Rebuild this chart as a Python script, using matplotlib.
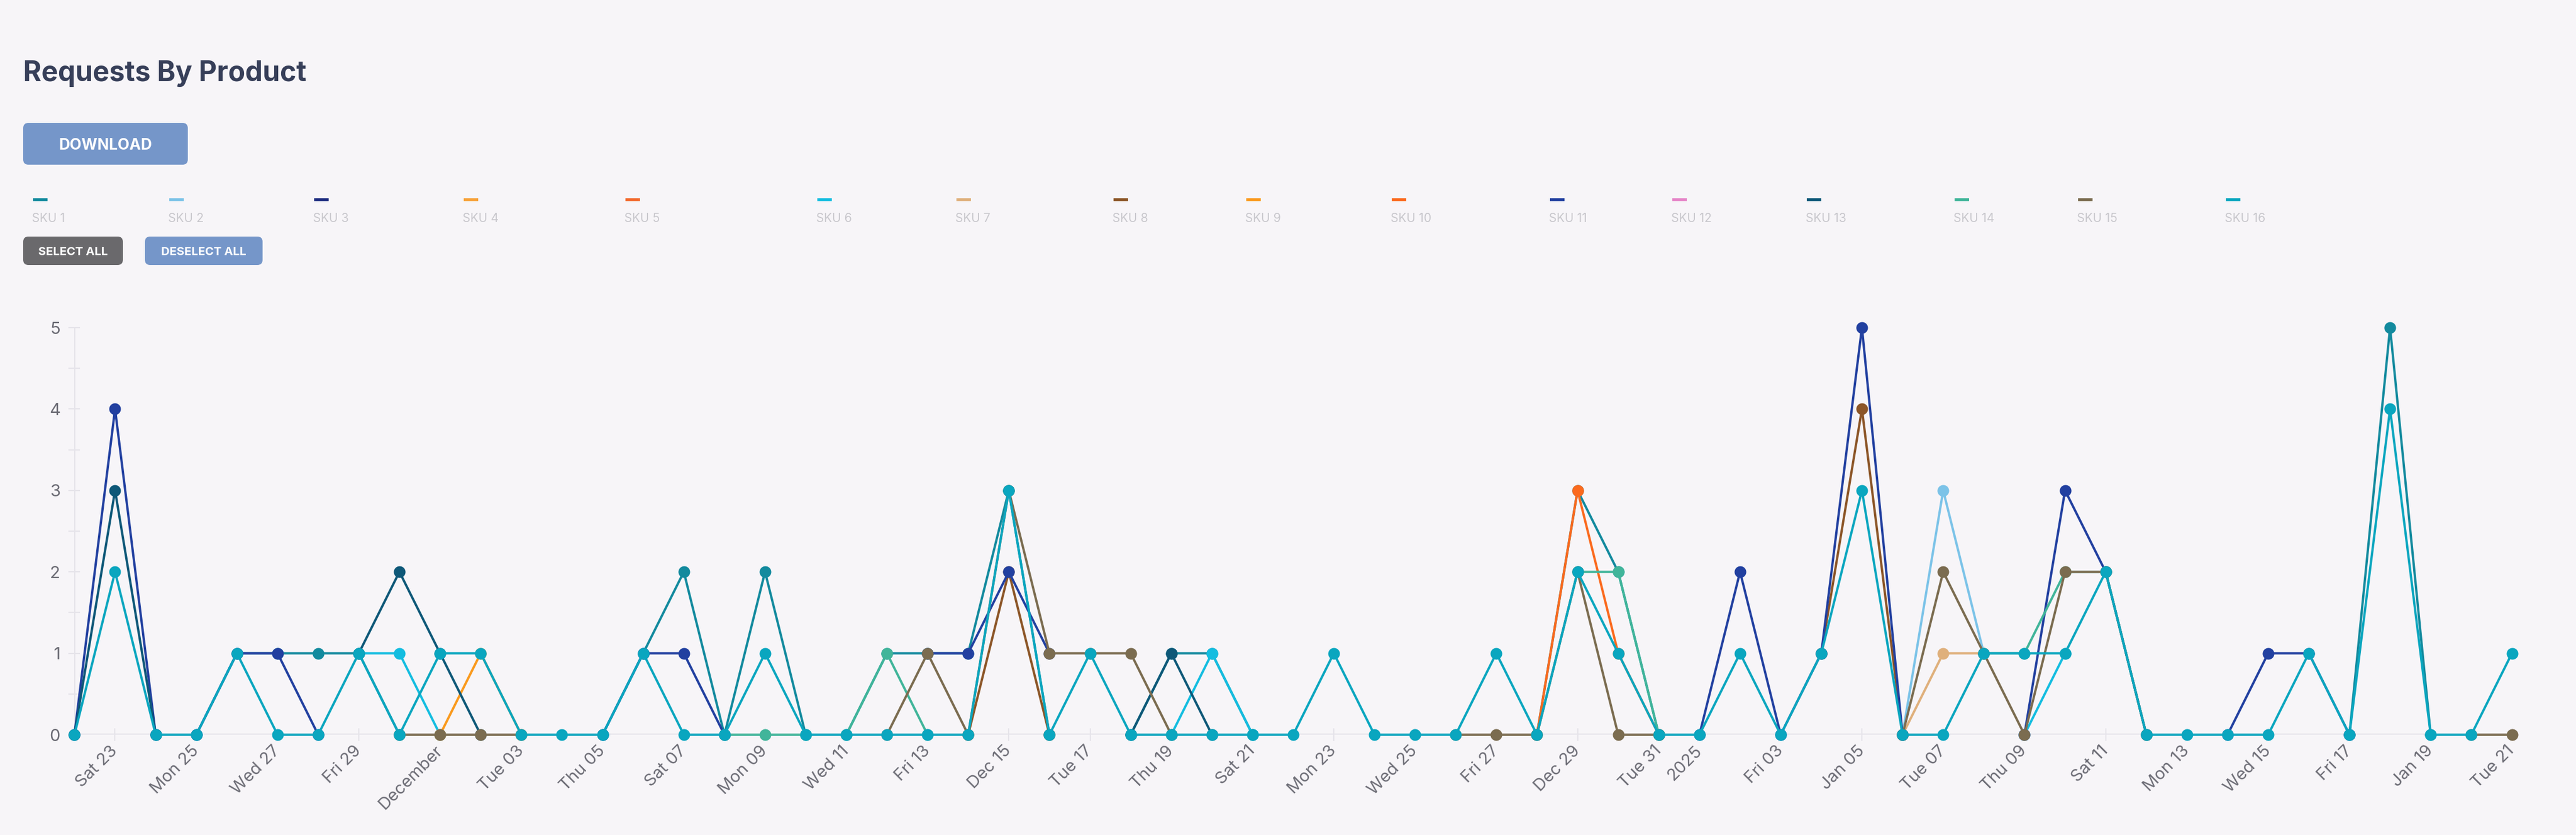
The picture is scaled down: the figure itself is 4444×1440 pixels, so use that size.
import numpy as np
import pandas as pd
import matplotlib
matplotlib.use("Agg")
import matplotlib.pyplot as plt
import matplotlib.dates as mdates
from matplotlib.patches import FancyBboxPatch, Rectangle

plt.rcParams['font.family'] = ['Inter', 'DejaVu Sans']

N = None  # no data for that SKU on that day

# ---------------- data ----------------
dates = pd.date_range("2024-11-22", "2025-01-21", freq="D")

series_names = ["SKU 1", "SKU 2", "SKU 3", "SKU 4", "SKU 5", "SKU 6", "SKU 7", "SKU 8",
                "SKU 9", "SKU 10", "SKU 11", "SKU 12", "SKU 13", "SKU 14", "SKU 15", "SKU 16"]
series_colors = ["#138a9e", "#7cc3e8", "#1e2d80", "#f7a23a", "#f26a2e", "#14bde0", "#dfb07c", "#8c5628",
                 "#fa9a1e", "#fb6a1e", "#2240a0", "#e685c8", "#0e5878", "#41b59a", "#7b6c50", "#0aa6bf"]

sku01 = [N, N, N, 0, 1, 1, 1, 1, 0, N,
         N, N, N, 0, 1, 2, 0, 2, 0, 0,
         1, 1, 1, 3, 0, N, 0, 1, 1, 0,
         N, N, N, N, N, N, 0, 3, 2, 0,
         N, N, N, N, N, N, N, N, N, N,
         N, N, N, N, N, N, 0, 5, 0, N, N]
sku02 = [N, N, N, N, N, N, N, N, N, N,
         N, N, N, N, N, N, N, N, N, N,
         N, N, N, N, N, N, N, N, N, N,
         N, N, N, N, N, N, N, N, N, N,
         N, N, N, N, N, 0, 3, 1, N, N,
         N, N, N, N, N, N, N, N, N, N, N]
sku03 = [N, N, N, N, N, N, N, N, N, N,
         N, N, N, N, N, N, N, N, N, N,
         N, N, N, N, N, N, N, N, N, N,
         N, N, N, N, N, N, N, N, N, N,
         N, N, N, N, N, N, N, N, N, N,
         N, N, N, N, N, N, N, N, N, N, N]
sku04 = [N, N, N, N, N, N, N, N, N, N,
         N, N, N, N, N, N, N, N, N, N,
         N, N, N, N, N, N, N, N, N, N,
         N, N, N, N, N, N, N, N, N, N,
         N, N, N, N, N, N, N, N, N, N,
         N, N, N, N, N, N, N, N, N, N, N]
sku05 = [N, N, N, N, N, N, N, N, N, N,
         N, N, N, N, N, N, N, N, N, N,
         N, N, N, N, N, N, N, N, N, N,
         N, N, N, N, N, N, N, N, N, N,
         N, N, N, N, N, N, N, N, N, N,
         N, N, N, N, N, N, N, N, N, N, N]
sku06 = [N, N, N, N, N, N, N, 1, 1, 0,
         N, N, N, N, N, N, N, N, N, N,
         N, N, N, N, N, N, N, 0, 1, 0,
         N, N, N, N, N, N, N, N, N, N,
         N, N, N, N, N, N, N, N, 0, 1,
         N, N, N, N, N, N, N, N, N, N, N]
sku07 = [N, N, N, N, N, N, N, N, N, N,
         N, N, N, N, N, N, N, N, N, N,
         N, N, N, N, N, N, N, N, N, N,
         N, N, N, N, N, N, N, N, N, N,
         N, N, N, N, N, 0, 1, 1, N, N,
         N, N, N, N, N, N, N, N, N, N, N]
sku08 = [N, N, N, N, N, N, N, N, N, N,
         N, N, N, N, N, N, N, N, N, N,
         N, N, 0, 2, 0, N, N, N, N, N,
         N, N, N, N, N, N, N, N, N, N,
         N, N, N, 1, 4, 0, N, N, N, N,
         N, N, N, N, N, N, N, N, N, N, N]
sku09 = [N, N, N, N, N, N, N, N, N, 0,
         1, 0, N, N, N, N, N, N, N, N,
         N, N, N, N, N, N, N, N, N, N,
         N, N, N, N, N, N, N, N, N, N,
         N, N, N, N, N, N, N, N, N, N,
         N, N, N, N, N, N, N, N, N, N, N]
sku10 = [N, N, N, N, N, N, N, N, N, N,
         N, N, N, N, N, N, N, N, N, N,
         N, N, N, N, N, N, N, N, N, N,
         N, N, N, N, N, N, 0, 3, 1, 0,
         N, N, N, N, N, N, N, N, N, N,
         N, N, N, N, N, N, N, N, N, N, N]
sku11 = [0, 4, 0, 0, 1, 1, 0, N, N, N,
         N, N, N, 0, 1, 1, 0, N, N, N,
         N, 1, 1, 2, 1, N, N, N, N, N,
         N, N, N, N, N, N, N, N, N, N,
         0, 2, 0, 1, 5, 0, N, N, 0, 3,
         2, 0, N, 0, 1, 1, 0, N, N, N, N]
sku12 = [N, N, N, N, N, N, N, N, N, N,
         N, N, N, N, N, N, N, N, N, N,
         N, N, N, N, N, N, N, N, N, N,
         N, N, N, N, N, N, N, N, N, N,
         N, N, N, N, N, N, N, N, N, N,
         N, N, N, N, N, N, N, N, N, N, N]
sku13 = [0, 3, 0, N, N, N, N, 1, 2, 1,
         0, N, N, N, N, N, N, N, N, N,
         N, N, N, N, N, N, 0, 1, 0, N,
         N, N, N, N, N, N, N, N, N, N,
         N, N, N, N, N, N, N, N, N, N,
         N, N, N, N, N, N, N, N, N, N, N]
sku14 = [N, N, N, N, N, N, N, N, N, N,
         N, N, N, N, N, N, 0, 0, 0, 0,
         1, 0, N, N, N, N, N, N, N, N,
         N, N, N, N, N, N, N, 2, 2, 0,
         N, N, N, N, N, N, N, 1, 1, 2,
         2, 0, N, N, N, N, N, N, N, N, N]
sku15 = [N, N, N, N, N, N, N, N, 0, 0,
         0, 0, N, N, N, N, N, N, N, N,
         0, 1, 0, 3, 1, 1, 1, 0, N, N,
         N, N, N, N, 0, 0, 0, 2, 0, 0,
         N, N, N, N, N, 0, 2, 1, 0, 2,
         2, 0, N, N, N, N, N, N, N, 0, 0]
sku16 = [0, 2, 0, 0, 1, 0, 0, 1, 0, 1,
         1, 0, 0, 0, 1, 0, 0, 1, 0, 0,
         0, 0, 0, 3, 0, 1, 0, 0, 0, 0,
         0, 1, 0, 0, 0, 1, 0, 2, 1, 0,
         0, 1, 0, 1, 3, 0, 0, 1, 1, 1,
         2, 0, 0, 0, 0, 1, 0, 4, 0, 0, 1]

series_values = [sku01, sku02, sku03, sku04, sku05, sku06, sku07, sku08,
                 sku09, sku10, sku11, sku12, sku13, sku14, sku15, sku16]

tick_dates = pd.to_datetime([
    "2024-11-23", "2024-11-25", "2024-11-27", "2024-11-29", "2024-12-01", "2024-12-03",
    "2024-12-05", "2024-12-07", "2024-12-09", "2024-12-11", "2024-12-13", "2024-12-15",
    "2024-12-17", "2024-12-19", "2024-12-21", "2024-12-23", "2024-12-25", "2024-12-27",
    "2024-12-29", "2024-12-31", "2025-01-01", "2025-01-03", "2025-01-05", "2025-01-07",
    "2025-01-09", "2025-01-11", "2025-01-13", "2025-01-15", "2025-01-17", "2025-01-19",
    "2025-01-21"])
tick_labels = ["Sat 23", "Mon 25", "Wed 27", "Fri 29", "December", "Tue 03",
               "Thu 05", "Sat 07", "Mon 09", "Wed 11", "Fri 13", "Dec 15",
               "Tue 17", "Thu 19", "Sat 21", "Mon 23", "Wed 25", "Fri 27",
               "Dec 29", "Tue 31", "2025", "Fri 03", "Jan 05", "Tue 07",
               "Thu 09", "Sat 11", "Mon 13", "Wed 15", "Fri 17", "Jan 19",
               "Tue 21"]
y_ticks = [0, 1, 2, 3, 4, 5]
y_minor_ticks = [0.5, 1.5, 2.5, 3.5, 4.5]

legend_x = [57, 292, 542, 800, 1079, 1410, 1650, 1921, 2150, 2401, 2674, 2885, 3117, 3372, 3585, 3840]

# ---------------- figure ----------------
W, H = 4444, 1440
BG = "#f7f5f8"
GRID = "#e6e4ea"
TXT = "#6b6b74"
fig = plt.figure(figsize=(W / 100, H / 100), dpi=100, facecolor=BG)


def fx(px):
    return px / W


def fy(py):
    return 1 - py / H


x_left, x_right = 128.4, 4333.5
y_top, y_bot = 565, 1267
ax = fig.add_axes([fx(x_left), fy(y_bot), fx(x_right) - fx(x_left), fy(y_top) - fy(y_bot)])
ax.set_facecolor("none")
for sp in ax.spines.values():
    sp.set_visible(False)

xnum = mdates.date2num(dates)
ax.axhline(0, color=GRID, lw=3, zorder=0.5)
ax.axvline(xnum[0], color=GRID, lw=2.2, zorder=0.5)

for vals, col in zip(series_values, series_colors):
    y = np.array([np.nan if v is None else v for v in vals], dtype=float)
    ax.plot(xnum, y, color=col, lw=2.9, marker='o', ms=14.5, mew=0,
            solid_joinstyle='round', clip_on=False, zorder=3)

ax.set_xlim(xnum[0], xnum[-1])
ax.set_ylim(0, 5)

ax.set_yticks(y_ticks)
ax.set_yticks(y_minor_ticks, minor=True)
ax.set_yticklabels([str(t) for t in y_ticks])
ax.tick_params(axis='y', which='both', direction='inout', length=15, width=1.5,
               color=GRID, labelsize=21, labelcolor=TXT, pad=10)

ax.set_xticks(mdates.date2num(tick_dates))
ax.set_xticklabels(tick_labels)
ax.tick_params(axis='x', which='both', direction='inout', length=16, width=1.5,
               color=GRID, labelsize=21, labelcolor=TXT, pad=9)
for lbl in ax.get_xticklabels():
    lbl.set_rotation(45)
    lbl.set_ha('right')
    lbl.set_va('center')
    lbl.set_rotation_mode('anchor')

# ---------------- header overlay (pixel coordinates) ----------------
ov = fig.add_axes([0, 0, 1, 1])
ov.set_xlim(0, W)
ov.set_ylim(H, 0)
ov.axis('off')

ov.text(40, 140, "Requests By Product", fontsize=34.5, fontweight='bold',
        color="#373f59", ha='left', va='baseline')


def button(x0, y0, x1, y1, label, color, fs, baseline):
    ov.add_patch(FancyBboxPatch((x0, y0), x1 - x0, y1 - y0,
                                boxstyle="round,pad=0,rounding_size=9",
                                fc=color, ec='none'))
    ov.text((x0 + x1) / 2, baseline, label, color="white", fontsize=fs,
            fontweight='bold', ha='center', va='baseline')


button(40, 212, 324, 284, "DOWNLOAD", "#7596c9", 19, 258)
button(40, 408, 212, 457, "SELECT ALL", "#6a696c", 14.5, 440)
button(250, 408, 453, 457, "DESELECT ALL", "#7596c9", 14.5, 440)

for name, col, lx in zip(series_names, series_colors, legend_x):
    ov.add_patch(Rectangle((lx, 342), 25, 5, fc=col, ec='none'))
    ov.text(lx - 2, 383, name, fontsize=15, color="#c9c8cd", ha='left', va='baseline')

fig.savefig("out.png", dpi=100, facecolor=BG)
